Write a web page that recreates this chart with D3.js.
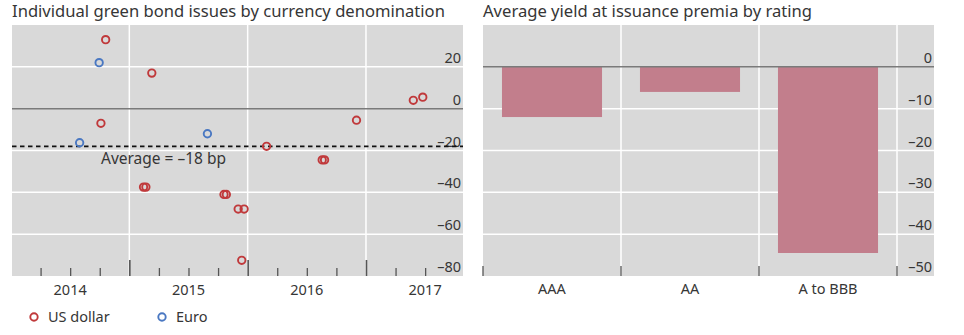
<!DOCTYPE html>
<html>
<head>
<meta charset="utf-8">
<script src="https://cdn.jsdelivr.net/npm/d3@7"></script>
<style>
  body { margin: 0; background: #fff; }
  text { font-family: "Noto Sans", "Open Sans", sans-serif; fill: #363636; }
  .axis path { display: none; }
</style>
</head>
<body>
<script>
// left panel: issue date (decimal year) and premium in bp
var usDates = [2014.80, 2015.19, 2017.40, 2017.48, 2014.76, 2016.92, 2016.16, 2016.63, 2016.65,
  2015.12, 2015.14, 2015.80, 2015.82, 2015.92, 2015.97, 2015.95];
var usValues = [33, 17, 4, 5.5, -7, -5.5, -18, -24.5, -24.5, -37.5, -37.5, -41, -41, -48, -48, -72.5];
var euroDates = [2014.745, 2015.66, 2014.58];
var euroValues = [22, -12, -16.3];
var averagePremium = -18;
var leftTicks = [20, 0, -20, -40, -60, -80];
var yearLabels = [2014, 2015, 2016, 2017];

// right panel
var ratings = ["AAA", "AA", "A to BBB"];
var premia = [-12, -6, -44.5];
var rightTicks = [0, -10, -20, -30, -40, -50];

const W = 964, H = 335;
const panelTop = 25, panelBottom = 276;
const red = "#c0393b", blue = "#4a78c2";
const tickFont = "14.5px";

const svg = d3.select("body").append("svg")
    .attr("width", W)
    .attr("height", H);

function fmt(d) { return d < 0 ? "\u2013" + Math.abs(d) : d; }

// ---------- left panel ----------
const L = {x0: 12, x1: 463};

svg.append("text")
    .attr("x", L.x0).attr("y", 17)
    .attr("font-size", "16.6px")
    .text("Individual green bond issues by currency denomination");

var xScale = d3.scaleLinear().domain([2014, 2017.82]).range([L.x0 - 1, L.x1]);
var yScale = d3.scaleLinear().domain([-80, 40]).range([panelBottom, panelTop]);

const gl = svg.append("g");
gl.append("rect")
    .attr("x", L.x0).attr("y", panelTop)
    .attr("width", L.x1 - L.x0).attr("height", panelBottom - panelTop)
    .attr("fill", "#d9d9d9");

// horizontal grid
gl.selectAll(".hgrid").data(leftTicks.filter(d => d != 0 && d != -80)).enter()
    .append("line")
    .attr("x1", L.x0).attr("x2", L.x1)
    .attr("y1", d => yScale(d)).attr("y2", d => yScale(d))
    .attr("stroke", "#fff").attr("stroke-width", 1.5);

// vertical grid at year boundaries
gl.selectAll(".vgrid").data([2015, 2016, 2017]).enter()
    .append("line")
    .attr("x1", d => xScale(d)).attr("x2", d => xScale(d))
    .attr("y1", panelTop).attr("y2", panelBottom)
    .attr("stroke", "#fff").attr("stroke-width", 1.5);

// quarterly ticks (up from the bottom)
var quarters = [];
for (var yr = 2014; yr <= 2017; yr++) {
    [0.25, 0.5, 0.75].forEach(q => { if (yr + q < 2017.7) quarters.push(yr + q); });
}
gl.append("g")
    .attr("class", "axis")
    .attr("transform", "translate(0," + panelBottom + ")")
    .call(d3.axisTop(xScale).tickValues(quarters).tickSize(8).tickFormat(""))
    .selectAll("line").attr("stroke", "#555").attr("stroke-width", 1.3);
gl.append("g")
    .attr("class", "axis")
    .attr("transform", "translate(0," + panelBottom + ")")
    .call(d3.axisTop(xScale).tickValues([2015, 2016, 2017]).tickSize(16).tickFormat(""))
    .selectAll("line").attr("stroke", "#555").attr("stroke-width", 1.6);

// year labels centred in each year
gl.selectAll(".year").data(yearLabels).enter()
    .append("text")
    .attr("x", d => xScale(d + 0.5))
    .attr("y", 295)
    .attr("text-anchor", "middle")
    .attr("font-size", tickFont)
    .text(d => d);

// y labels sit just above their gridline
gl.selectAll(".ylab").data(leftTicks).enter()
    .append("text")
    .attr("x", L.x1 - 2)
    .attr("y", d => yScale(d) - 4)
    .attr("text-anchor", "end")
    .attr("font-size", tickFont)
    .text(fmt);

// zero line
gl.append("line")
    .attr("x1", L.x0).attr("x2", L.x1)
    .attr("y1", yScale(0)).attr("y2", yScale(0))
    .attr("stroke", "#7a7a7a").attr("stroke-width", 1.5);

// average line
gl.append("line")
    .attr("x1", L.x0).attr("x2", L.x1)
    .attr("y1", yScale(averagePremium)).attr("y2", yScale(averagePremium))
    .attr("stroke", "#111").attr("stroke-width", 1.8)
    .attr("stroke-dasharray", "4.5,3.5");
gl.append("text")
    .attr("x", 101).attr("y", yScale(averagePremium) + 18)
    .attr("font-size", "15.5px")
    .text("Average = \u201318 bp");

// points
var usData = usDates.map((d, i) => ({date: d, value: usValues[i]}));
var euroData = euroDates.map((d, i) => ({date: d, value: euroValues[i]}));

function drawPoints(data, colour) {
    gl.selectAll(null).data(data).enter()
        .append("circle")
        .attr("cx", d => xScale(d.date))
        .attr("cy", d => yScale(d.value))
        .attr("r", 3.7)
        .attr("fill", "none")
        .attr("stroke", colour)
        .attr("stroke-width", 1.9);
}
drawPoints(euroData, blue);
drawPoints(usData, red);

// legend
var legend = [{name: "US dollar", colour: red, x: 34}, {name: "Euro", colour: blue, x: 162}];
var lg = svg.selectAll(".legend").data(legend).enter().append("g");
lg.append("circle")
    .attr("cx", d => d.x).attr("cy", 317)
    .attr("r", 3.7).attr("fill", "none")
    .attr("stroke", d => d.colour).attr("stroke-width", 1.9);
lg.append("text")
    .attr("x", d => d.x + 14).attr("y", 322)
    .attr("font-size", tickFont)
    .text(d => d.name);

// ---------- right panel ----------
const R = {x0: 483, x1: 934, bandEnd: 897};

svg.append("text")
    .attr("x", R.x0).attr("y", 17)
    .attr("font-size", "16.6px")
    .text("Average yield at issuance premia by rating");

var xBand = d3.scaleBand().domain(ratings).range([R.x0, R.bandEnd])
    .paddingInner(0.275).paddingOuter(0.1375);
var yRight = d3.scaleLinear().domain([-50, 10]).range([panelBottom, panelTop]);

const gr = svg.append("g");
gr.append("rect")
    .attr("x", R.x0).attr("y", panelTop)
    .attr("width", R.x1 - R.x0).attr("height", panelBottom - panelTop)
    .attr("fill", "#d9d9d9");

gr.selectAll(".hgrid").data(rightTicks.filter(d => d != 0 && d != -50)).enter()
    .append("line")
    .attr("x1", R.x0).attr("x2", R.x1)
    .attr("y1", d => yRight(d)).attr("y2", d => yRight(d))
    .attr("stroke", "#fff").attr("stroke-width", 1.5);

var bandEdges = ratings.map(r => xBand(r) - xBand.step() * xBand.paddingOuter())
    .concat([R.bandEnd]);
gr.selectAll(".vgrid").data(bandEdges.slice(1)).enter()
    .append("line")
    .attr("x1", d => d).attr("x2", d => d)
    .attr("y1", panelTop).attr("y2", panelBottom)
    .attr("stroke", "#fff").attr("stroke-width", 1.5);

gr.selectAll(".btick").data(bandEdges).enter()
    .append("line")
    .attr("x1", d => d).attr("x2", d => d)
    .attr("y1", panelBottom - 10).attr("y2", panelBottom)
    .attr("stroke", "#555").attr("stroke-width", 1.3);

gr.selectAll(".bar").data(ratings).enter()
    .append("rect")
    .attr("x", d => xBand(d))
    .attr("width", xBand.bandwidth())
    .attr("y", yRight(0))
    .attr("height", (d, i) => yRight(premia[i]) - yRight(0))
    .attr("fill", "#c27e8c");

gr.append("line")
    .attr("x1", R.x0).attr("x2", R.x1)
    .attr("y1", yRight(0)).attr("y2", yRight(0))
    .attr("stroke", "#7a7a7a").attr("stroke-width", 1.5);

gr.selectAll(".ylab").data(rightTicks).enter()
    .append("text")
    .attr("x", R.x1 - 2)
    .attr("y", d => yRight(d) - 4)
    .attr("text-anchor", "end")
    .attr("font-size", tickFont)
    .text(fmt);

gr.selectAll(".xlab").data(ratings).enter()
    .append("text")
    .attr("x", d => xBand(d) + xBand.bandwidth() / 2)
    .attr("y", 294)
    .attr("text-anchor", "middle")
    .attr("font-size", tickFont)
    .text(d => d);
</script>
</body>
</html>
